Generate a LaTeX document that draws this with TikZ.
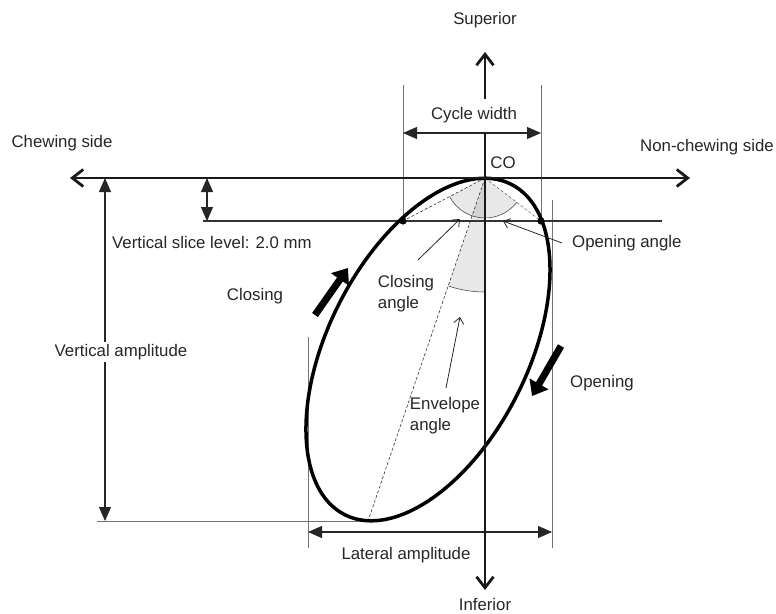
\documentclass[tikz,border=0pt]{standalone}
\usepackage{fontspec}
\setmainfont{Liberation Sans}
\usetikzlibrary{arrows.meta}
\begin{document}
\begin{tikzpicture}[x=1pt,y=-1pt,
  lbl/.style={font=\fontsize{16.8}{21}\selectfont, text=black!85, inner sep=1pt},
  axisline/.style={line width=2.8pt, black!90},
  barb/.tip={Straight Barb[length=11pt,width=17pt]},
  dimtip/.tip={Triangle[length=14pt,width=12pt]},
  dimline/.style={line width=1.1pt, black!85, dimtip-dimtip},
  guide/.style={line width=0.6pt, black!55},
  ptr/.style={line width=0.8pt, black!85, -{Straight Barb[length=6pt,width=10pt]}},
  block/.style={line width=7pt, black, -{Triangle[length=14pt,width=21pt]}},
  sector/.style={fill=black, fill opacity=0.09},
  thindash/.style={line width=0.6pt, black!80, dash pattern=on 3pt off 2pt}
]
\useasboundingbox (0,0) rectangle (776,613);

% key coordinates
\coordinate (CO) at (485,178);
\coordinate (AL) at (70,178);
\coordinate (AR) at (690,178);
\coordinate (SupB) at (485,99);
\coordinate (SupT) at (485,52);
\coordinate (InfT) at (485,133);
\coordinate (InfB) at (485,590);
\coordinate (SL) at (403,221);
\coordinate (SR) at (541,221);
\coordinate (EB) at (368,521);
\coordinate (C) at (428,349.5);

% shaded sectors
\fill[sector] (CO) -- ++(151.7:40) arc[start angle=151.7,end angle=90,radius=40] -- cycle;
\fill[sector] (CO) -- ++(90:40) arc[start angle=90,end angle=37.5,radius=40] -- cycle;
\fill[sector] (CO) -- ++(108.8:114) arc[start angle=108.8,end angle=90,radius=114] -- cycle;
\draw[line width=0.6pt, black!70] (CO) ++(151.7:40) arc[start angle=151.7,end angle=37.5,radius=40];
\draw[line width=0.6pt, black!70] (CO) ++(108.8:114) arc[start angle=108.8,end angle=90,radius=114];

% dashed construction lines
\draw[thindash] (CO) -- (SL);
\draw[thindash, black!55] (CO) -- (SR);
\draw[thindash] (CO) -- (EB);

% guide lines
\coordinate (CWL) at (403,85);
\coordinate (CWR) at (541,85);
\draw[guide] (CWL) -- (SL);
\draw[guide] (CWR) -- (SR);
\coordinate (LAL1) at (308,337);
\coordinate (LAL2) at (308,548);
\coordinate (LAR1) at (552,200);
\coordinate (LAR2) at (552,548);
\draw[guide] (LAL1) -- (LAL2);
\draw[guide] (LAR1) -- (LAR2);
\coordinate (VB) at (97,521);
\draw[guide] (VB) -- (EB);
\coordinate (SLa) at (203,221);
\coordinate (SLb) at (662,221);
\draw[line width=1.1pt, black!80] (SLa) -- (SLb);

% ellipse
\draw[line width=3.5pt, rotate around={63.3:(C)}] (C) ellipse [x radius=185pt, y radius=100pt];
\fill (SL) circle (3.6pt);
\fill (SR) circle (3.6pt);

% dimension arrows
\coordinate (CW1) at (403,133);
\coordinate (CW2) at (541,133);
\draw[dimline] (CW1) -- (CW2);
\coordinate (VS1) at (207,178);
\coordinate (VS2) at (207,221);
\draw[dimline] (VS1) -- (VS2);
\coordinate (VA1) at (105,178);
\coordinate (VA2) at (105,521);
\draw[dimline] (VA1) -- (VA2);
\coordinate (LA1) at (308,532);
\coordinate (LA2) at (552,532);
\draw[dimline] (LA1) -- (LA2);

% axes
\draw[axisline, barb-barb] (AL) -- (AR);
\draw[axisline, -barb] (SupB) -- (SupT);
\draw[axisline, -barb] (InfT) -- (InfB);

% block arrows
\coordinate (BC1) at (315,315);
\coordinate (BC2) at (348,268);
\draw[block] (BC1) -- (BC2);
\coordinate (BO1) at (561,346);
\coordinate (BO2) at (532,396);
\draw[block] (BO1) -- (BO2);

% labels
\node[lbl] (sup) at (485,20) {Superior};
\node[lbl] (inf) at (485,604) {Inferior};
\node[lbl] (cw) at (474,115) {Cycle width};
\node[lbl] (chew) at (62,143) {Chewing side};
\node[lbl] (nonchew) at (707,147) {Non-chewing side};
\node[lbl] (co) at (503,163) {CO};
\node[lbl, anchor=west] (vsl) at (111,242) {Vertical slice level: 2.0 mm};
\node[lbl, fill=white, inner sep=2pt] (va) at (121,352) {Vertical amplitude};
\node[lbl] (closing) at (255,296) {Closing};
\node[lbl, anchor=west] (opening) at (569,383) {Opening};
\node[lbl, anchor=west] (oa) at (571,243) {Opening angle};
\node[lbl, align=left] (ca) at (406,294) {Closing\\angle};
\node[lbl, align=left] (ea) at (445,416) {Envelope\\angle};
\node[lbl] (la) at (406,555) {Lateral amplitude};

% pointer arrows
\coordinate (P1a) at (418,260);
\coordinate (P1b) at (460,219);
\draw[ptr] (P1a) -- (P1b);
\coordinate (P2a) at (562,243);
\coordinate (P2b) at (503,221);
\draw[ptr] (P2a) -- (P2b);
\coordinate (P3a) at (446,388);
\coordinate (P3b) at (460,317);
\draw[ptr] (P3a) -- (P3b);
\end{tikzpicture}
\end{document}
